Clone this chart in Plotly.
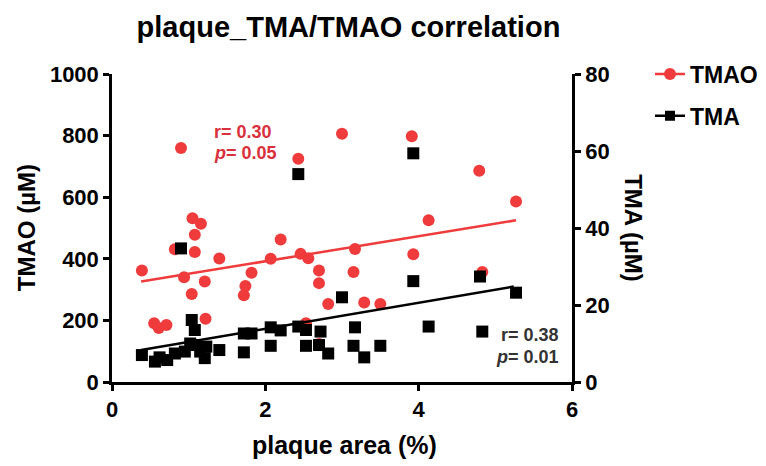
import plotly.graph_objects as go

# ---- data ----
tmao_x = [0.39, 0.55, 0.61, 0.71, 0.90, 0.82, 0.94, 1.04, 1.05, 1.08, 1.08, 1.16, 1.21, 1.22,
          1.40, 1.72, 1.74, 1.82, 2.07, 2.20, 2.43, 2.46, 2.53, 2.56, 2.70, 2.70, 2.70, 2.82,
          3.00, 3.15, 3.17, 3.29, 3.50, 3.91, 3.93, 4.13, 4.79, 4.83, 5.27]
tmao_y = [362, 191, 175, 185, 760, 431, 340, 286, 532, 478, 422, 514, 326, 205,
          401, 282, 312, 355, 400, 463, 725, 416, 191, 402, 362, 321, 123, 253,
          806, 357, 432, 258, 253, 798, 415, 525, 686, 357, 586]

tma_x = [0.39, 0.56, 0.62, 0.72, 0.82, 0.90, 0.95, 1.02, 1.04, 1.08, 1.10, 1.15, 1.21, 1.23,
         1.40, 1.72, 1.72, 1.82, 2.07, 2.07, 2.20, 2.43, 2.43, 2.53, 2.53, 2.70, 2.72, 2.82,
         3.00, 3.15, 3.17, 3.29, 3.50, 3.93, 3.93, 4.13, 4.80, 4.83, 5.27]
tma_y = [7.0, 5.3, 6.4, 5.7, 7.4, 34.7, 7.9, 10.0, 16.1, 13.5, 9.6, 7.9, 6.2, 9.2,
         8.3, 7.7, 12.6, 12.6, 14.2, 9.4, 13.4, 14.4, 54.0, 13.5, 9.4, 9.6, 13.1, 7.4,
         22.0, 9.4, 14.2, 6.4, 9.4, 26.2, 59.4, 14.4, 27.4, 13.1, 23.2]

# regression lines (end points)
fit_tmao_x = [0.38, 5.27]
fit_tmao_y = [326, 525]
fit_tma_x = [0.38, 5.24]
fit_tma_y = [8.3, 24.8]

x_ticks = [0, 2, 4, 6]
left_ticks = [0, 200, 400, 600, 800, 1000]
right_ticks = [0, 20, 40, 60, 80]

RED = "#EF3B3B"
BLACK = "#000000"
FONT = "Liberation Sans, Arial, sans-serif"

fig = go.Figure()

fig.add_trace(go.Scatter(x=tma_x, y=tma_y, yaxis="y2", mode="markers",
                         marker=dict(symbol="square", size=12, color=BLACK),
                         showlegend=False, cliponaxis=False))
fig.add_trace(go.Scatter(x=fit_tma_x, y=fit_tma_y, yaxis="y2", mode="lines",
                         line=dict(color=BLACK, width=2.5), showlegend=False))
fig.add_trace(go.Scatter(x=tmao_x, y=tmao_y, mode="markers",
                         marker=dict(symbol="circle", size=12, color=RED),
                         showlegend=False, cliponaxis=False))
fig.add_trace(go.Scatter(x=fit_tmao_x, y=fit_tmao_y, mode="lines",
                         line=dict(color=RED, width=2.5), showlegend=False))

# legend entries
fig.add_trace(go.Scatter(x=[None], y=[None], mode="lines+markers", name="TMAO",
                         legendgroup="a",
                         marker=dict(symbol="circle", size=12, color=RED),
                         line=dict(color=RED, width=2.5)))
fig.add_trace(go.Scatter(x=[None], y=[None], mode="lines+markers", name="TMA",
                         legendgroup="b",
                         marker=dict(symbol="square", size=10, color=BLACK),
                         line=dict(color=BLACK, width=2.5)))

axis_common = dict(showline=True, linecolor="black", linewidth=2.5, ticks="outside",
                   ticklen=6, tickwidth=2.5, tickcolor="black", showgrid=False,
                   zeroline=False,
                   tickfont=dict(family=FONT, size=22, color="black", weight="bold"))

fig.update_layout(
    width=766, height=466,
    margin=dict(l=104, r=201, t=66, b=92),
    paper_bgcolor="white", plot_bgcolor="white",
    font=dict(family=FONT, color="black"),
    title=dict(text="<b>plaque_TMA/TMAO correlation</b>", x=(349 - 112) / 461, xref="paper",
               xanchor="center", y=0.96, yanchor="middle",
               font=dict(family=FONT, size=29, color="black")),
    xaxis=dict(range=[0, 6], tickvals=x_ticks, **axis_common),
    yaxis=dict(range=[0, 1000], tickvals=left_ticks, **axis_common),
    yaxis2=dict(range=[0, 80], tickvals=right_ticks, overlaying="y", side="right",
                anchor="x", **axis_common),
    legend=dict(x=1.167, y=1.07, xanchor="left", yanchor="top",
                font=dict(family=FONT, size=23, color="black", weight="bold"),
                traceorder="grouped", tracegroupgap=9, bgcolor="rgba(0,0,0,0)"),
    showlegend=True,
)

ann_font = dict(family=FONT, size=18, weight="bold")
annotations = [
    dict(text="r= 0.30", x=1.306, y=813, xref="x", yref="y", xanchor="left", yanchor="middle",
         showarrow=False, font=dict(color="#D9303C", **ann_font)),
    dict(text="<i>p</i>= 0.05", x=1.306, y=745, xref="x", yref="y", xanchor="left",
         yanchor="middle", showarrow=False, font=dict(color="#D9303C", **ann_font)),
    dict(text="r= 0.38", x=5.86, y=12.2, xref="x", yref="y2", xanchor="right",
         yanchor="middle", showarrow=False, font=dict(color="#333333", **ann_font)),
    dict(text="<i>p</i>= 0.01", x=5.86, y=6.5, xref="x", yref="y2", xanchor="right",
         yanchor="middle", showarrow=False, font=dict(color="#333333", **ann_font)),
    # axis titles
    dict(text="<b>plaque area (%)</b>", x=(345 - 112) / 461, y=-(445 - 382) / 308,
         xref="paper", yref="paper", xanchor="center", yanchor="middle", showarrow=False,
         font=dict(family=FONT, size=25, color="black")),
    dict(text="<b>TMAO (µM)</b>", x=-(112 - 26) / 461, y=0.5, xref="paper", yref="paper",
         xanchor="center", yanchor="middle", textangle=-90, showarrow=False,
         font=dict(family=FONT, size=24, color="black")),
    dict(text="<b>TMA (µM)</b>", x=1 + (635 - 573) / 461, y=0.5, xref="paper", yref="paper",
         xanchor="center", yanchor="middle", textangle=90, showarrow=False,
         font=dict(family=FONT, size=24, color="black")),
]
fig.update_layout(annotations=annotations)

fig.write_html("out.html")
